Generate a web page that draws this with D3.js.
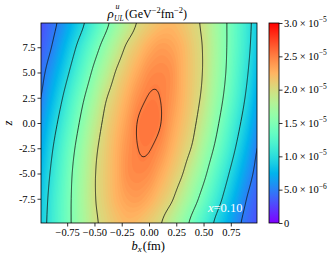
<!DOCTYPE html>
<html>
<head>
<meta charset="utf-8">
<script src="https://cdn.jsdelivr.net/npm/d3@7"></script>
<style>
body { margin: 0; background: #fff; }
text { font-family: "Liberation Serif", "DejaVu Serif", serif; fill: #000; }
</style>
</head>
<body>
<script>
// grid of rho_UL^u, in units of 1e-5 GeV^-2 fm^-2
var bx = [-1.0, -0.9, -0.8, -0.7, -0.6, -0.5, -0.4, -0.3, -0.2, -0.1, 0.0,
          0.1, 0.2, 0.3, 0.4, 0.5, 0.6, 0.7, 0.8, 0.9, 1.0];
var zs = [-10, -7.5, -5, -2.5, 0, 2.5, 5, 7.5, 10];
var rho = [
  [0.88,1.09,1.31,1.53,1.74,1.95,2.07,2.17,2.23,2.20,2.12,2.02,1.84,1.64,1.42,1.20,0.98,0.78,0.57,0.42,0.30],
  [0.84,1.07,1.30,1.53,1.76,1.98,2.12,2.25,2.34,2.36,2.29,2.17,2.04,1.84,1.62,1.39,1.16,0.93,0.70,0.49,0.36],
  [0.78,1.02,1.26,1.51,1.74,1.98,2.13,2.27,2.42,2.46,2.43,2.31,2.17,2.02,1.80,1.57,1.32,1.08,0.84,0.61,0.43],
  [0.70,0.95,1.20,1.45,1.69,1.94,2.11,2.26,2.41,2.50,2.51,2.43,2.28,2.13,1.97,1.72,1.48,1.23,0.98,0.73,0.49],
  [0.60,0.85,1.10,1.35,1.60,1.85,2.06,2.21,2.36,2.51,2.55,2.51,2.36,2.21,2.06,1.85,1.60,1.35,1.10,0.85,0.60],
  [0.49,0.73,0.98,1.23,1.48,1.72,1.97,2.13,2.28,2.43,2.51,2.50,2.41,2.26,2.11,1.94,1.69,1.45,1.20,0.95,0.70],
  [0.43,0.61,0.84,1.08,1.32,1.57,1.80,2.02,2.17,2.31,2.43,2.46,2.42,2.27,2.13,1.98,1.74,1.51,1.26,1.02,0.78],
  [0.36,0.49,0.70,0.93,1.16,1.39,1.62,1.84,2.04,2.17,2.29,2.36,2.34,2.25,2.12,1.98,1.76,1.53,1.30,1.07,0.84],
  [0.30,0.42,0.57,0.78,0.98,1.20,1.42,1.64,1.84,2.02,2.12,2.20,2.23,2.17,2.07,1.95,1.74,1.53,1.31,1.09,0.88]
];
var lineLevels = [0.5, 1.0, 1.5, 2.0, 2.5];
var xTicks = [-0.75, -0.5, -0.25, 0, 0.25, 0.5, 0.75];
var yTicks = [-7.5, -5, -2.5, 0, 2.5, 5, 7.5];
var cbTicks = [0, 0.5, 1.0, 1.5, 2.0, 2.5, 3.0];
var cbMant = ["0", "5.0 \u00d7 10", "1.0 \u00d7 10", "1.5 \u00d7 10", "2.0 \u00d7 10", "2.5 \u00d7 10", "3.0 \u00d7 10"];
var cbExp = ["", "\u22126", "\u22125", "\u22125", "\u22125", "\u22125", "\u22125"];

contourChart();

function contourChart()
{
  var width = 335, height = 260;
  var pL = 41, pR = 257, pT = 23, pB = 223;

  var svg = d3.select("body").append("svg")
    .attr("width", width)
    .attr("height", height);

  var x = d3.scaleLinear().domain([-0.99, 0.99]).range([pL, pR]);
  var y = d3.scaleLinear().domain([-9.9, 9.9]).range([pB, pT]);
  var c = d3.scaleLinear().domain([0, 3]).range([pB, pT]);

  // matplotlib "rainbow"
  function rainbow(t) {
    t = Math.max(0, Math.min(1, t));
    var r = Math.abs(2 * t - 0.5), g = Math.sin(Math.PI * t), b = Math.cos(Math.PI * t / 2);
    return d3.rgb(255 * Math.min(1, r), 255 * g, 255 * Math.max(0, b)).toString();
  }

  // smooth the coarse grid (catmull-rom) so it looks like contourf
  function cr(p0, p1, p2, p3, t) {
    return 0.5 * (2 * p1 + (-p0 + p2) * t + (2 * p0 - 5 * p1 + 4 * p2 - p3) * t * t +
      (-p0 + 3 * p1 - 3 * p2 + p3) * t * t * t);
  }
  function at(j, i) {
    j = Math.max(0, Math.min(zs.length - 1, j));
    i = Math.max(0, Math.min(bx.length - 1, i));
    return rho[j][i];
  }
  function sample(b, z) {
    var fi = (b - bx[0]) / (bx[1] - bx[0]), fj = (z - zs[0]) / (zs[1] - zs[0]);
    var i = Math.min(bx.length - 2, Math.max(0, Math.floor(fi)));
    var j = Math.min(zs.length - 2, Math.max(0, Math.floor(fj)));
    var tx = fi - i, tz = fj - j, rows = [];
    for (var k = -1; k <= 2; k++)
      rows.push(cr(at(j + k, i - 1), at(j + k, i), at(j + k, i + 1), at(j + k, i + 2), tx));
    return cr(rows[0], rows[1], rows[2], rows[3], tz);
  }

  var nx = 217, ny = 201;
  var b0 = bx[0], db = (bx[bx.length - 1] - bx[0]) / (nx - 1);
  var z0 = zs[0], dz = (zs[zs.length - 1] - zs[0]) / (ny - 1);
  var vals = new Array(nx * ny);
  for (var j = 0; j < ny; j++)
    for (var i = 0; i < nx; i++)
      vals[j * nx + i] = sample(b0 + i * db, z0 + j * dz);

  var proj = d3.geoTransform({
    point: function (px, py) {
      this.stream.point(x(b0 + (px - 0.5) * db), y(z0 + (py - 0.5) * dz));
    }
  });
  var path = d3.geoPath(proj);

  svg.append("clipPath").attr("id", "plotclip")
    .append("rect").attr("x", pL).attr("y", pT)
    .attr("width", pR - pL).attr("height", pB - pT);

  var step = 0.03;
  var fillLevels = d3.range(0, 3.0, step);
  var plot = svg.append("g").attr("clip-path", "url(#plotclip)");

  plot.selectAll("path.band")
    .data(d3.contours().size([nx, ny]).thresholds(fillLevels)(vals))
    .enter().append("path")
    .attr("class", "band")
    .attr("d", path)
    .attr("fill", function (d) { return rainbow((d.value + step / 2) / 3); });

  plot.selectAll("path.line")
    .data(d3.contours().size([nx, ny]).thresholds(lineLevels)(vals))
    .enter().append("path")
    .attr("class", "line")
    .attr("d", path)
    .attr("fill", "none")
    .attr("stroke", "#111")
    .attr("stroke-width", 0.8);

  svg.append("text")
    .attr("x", 208).attr("y", 211.5)
    .attr("font-size", 12.5)
    .style("fill", "#fff")
    .html('<tspan font-style="italic">x</tspan>=0.10');

  svg.append("rect")
    .attr("x", pL).attr("y", pT)
    .attr("width", pR - pL).attr("height", pB - pT)
    .attr("fill", "none").attr("stroke", "#000").attr("stroke-width", 0.8);

  // axes
  var xAxis = d3.axisBottom(x).tickValues(xTicks).tickSize(3.5).tickPadding(2)
    .tickFormat(function (d) { return d.toFixed(2).replace("-", "\u2212"); });
  var yAxis = d3.axisLeft(y).tickValues(yTicks).tickSize(3.5).tickPadding(2)
    .tickFormat(function (d) { return d.toFixed(1); });

  var gx = svg.append("g").attr("transform", "translate(0," + pB + ")").call(xAxis);
  var gy = svg.append("g").attr("transform", "translate(" + pL + ",0)").call(yAxis);
  [gx, gy].forEach(function (g) {
    g.select(".domain").remove();
    g.selectAll("line").attr("stroke", "#000").attr("stroke-width", 0.8);
    g.selectAll("text").attr("font-size", 10.5).attr("font-family", "Liberation Serif");
  });

  // colorbar
  var cbx = 269, cbw = 10;
  var grad = svg.append("defs").append("linearGradient")
    .attr("id", "cbgrad").attr("x1", 0).attr("y1", 1).attr("x2", 0).attr("y2", 0);
  grad.selectAll("stop").data(d3.range(0, 1.0001, 0.05)).enter().append("stop")
    .attr("offset", function (d) { return d; })
    .attr("stop-color", function (d) { return rainbow(d); });
  svg.append("rect")
    .attr("x", cbx).attr("y", pT).attr("width", cbw).attr("height", pB - pT)
    .attr("fill", "url(#cbgrad)").attr("stroke", "#000").attr("stroke-width", 0.8);

  var gc = svg.append("g").attr("transform", "translate(" + (cbx + cbw) + ",0)")
    .call(d3.axisRight(c).tickValues(cbTicks).tickSize(3.5).tickFormat(""));
  gc.select(".domain").remove();
  gc.selectAll("line").attr("stroke", "#000").attr("stroke-width", 0.8);

  cbTicks.forEach(function (v, k) {
    var t = svg.append("text").attr("x", cbx + cbw + 5).attr("y", c(v) + 3.6).attr("font-size", 10.5);
    t.append("tspan").text(cbMant[k]);
    if (cbExp[k]) t.append("tspan").attr("dy", -4.5).attr("font-size", 7.5).text(cbExp[k]);
  });

  // title
  svg.append("text").attr("x", 107.5).attr("y", 17.5).attr("font-size", 13)
    .attr("font-style", "italic").text("\u03c1");
  svg.append("text").attr("x", 115.5).attr("y", 8.5).attr("font-size", 8)
    .attr("font-style", "italic").text("u");
  svg.append("text").attr("x", 114).attr("y", 20.5).attr("font-size", 7.5)
    .attr("font-style", "italic").text("UL");
  var tt = svg.append("text").attr("x", 125).attr("y", 17.5).attr("font-size", 12);
  tt.append("tspan").text("(GeV");
  tt.append("tspan").attr("dy", -5).attr("font-size", 8.5).text("\u22122");
  tt.append("tspan").attr("dy", 5).text("fm");
  tt.append("tspan").attr("dy", -5).attr("font-size", 8.5).text("\u22122");
  tt.append("tspan").attr("dy", 5).text(")");

  // axis labels
  var xl = svg.append("text").attr("x", 131.5).attr("y", 249.5).attr("font-size", 12.5);
  xl.append("tspan").attr("font-style", "italic").text("b");
  xl.append("tspan").attr("font-style", "italic").attr("font-size", 9).attr("dy", 2.5).text("x");
  xl.append("tspan").attr("dy", -2.5).attr("dx", 1).text("(fm)");

  svg.append("text")
    .attr("transform", "translate(12," + y(0) + ") rotate(-90)")
    .attr("text-anchor", "middle")
    .attr("font-size", 12.5)
    .attr("font-style", "italic")
    .text("z");
}
</script>
</body>
</html>
